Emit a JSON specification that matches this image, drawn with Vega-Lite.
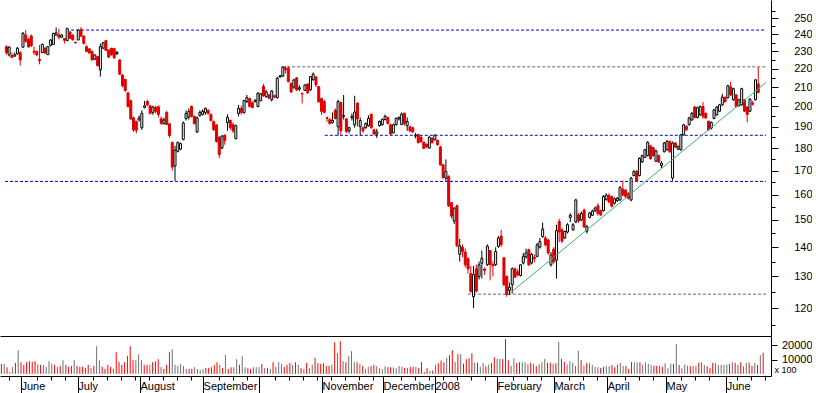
{
"$schema": "https://vega.github.io/schema/vega-lite/v6.json",
"padding": 0,
"background": "white",
"spacing": 0,
"config": {
  "view": {"stroke": null},
  "axis": {"labelFont": "Liberation Sans", "labelFontSize": 11, "labelColor": "black", "domainColor": "black", "tickColor": "black", "domainWidth": 1, "tickWidth": 1, "grid": false, "titleFont": "Liberation Sans", "titleColor": "black"}
},
"datasets": {
"ohlc": [
{"i":0,"o":232.7,"h":233.5,"l":228,"c":229.2,"v":6990},
{"i":1,"o":227.9,"h":233,"l":227,"c":232.4,"v":6990},
{"i":2,"o":227.5,"h":229.3,"l":226,"c":226.5,"v":4660},
{"i":3,"o":227.2,"h":229.3,"l":226.8,"c":228,"v":1400},
{"i":4,"o":228.5,"h":232.5,"l":228,"c":231.8,"v":4660},
{"i":5,"o":229.2,"h":230,"l":221.7,"c":225,"v":7690},
{"i":6,"o":232.4,"h":241.5,"l":232,"c":240.7,"v":16540},
{"i":7,"o":239.7,"h":242.7,"l":235,"c":235.9,"v":8155},
{"i":8,"o":237.1,"h":238,"l":232,"c":232.7,"v":6290},
{"i":9,"o":239.1,"h":240,"l":232.5,"c":233.3,"v":8155},
{"i":10,"o":230,"h":232.7,"l":227.9,"c":229.5,"v":8850},
{"i":11,"o":229.9,"h":230.5,"l":227,"c":227.9,"v":8390},
{"i":12,"o":225.4,"h":233.7,"l":222.5,"c":224.6,"v":8850},
{"i":13,"o":229.2,"h":234.5,"l":229,"c":234.1,"v":6760},
{"i":14,"o":231.8,"h":232.5,"l":228.5,"c":229,"v":6290},
{"i":15,"o":228,"h":233,"l":227.9,"c":232.7,"v":6290},
{"i":16,"o":233.5,"h":237,"l":232.7,"c":236.7,"v":4890},
{"i":17,"o":234,"h":241,"l":233.7,"c":240.7,"v":8850},
{"i":18,"o":239.6,"h":244.3,"l":239.5,"c":241,"v":6990},
{"i":19,"o":239.7,"h":243.5,"l":237.1,"c":238.3,"v":6290},
{"i":20,"o":238.3,"h":240,"l":238,"c":239.7,"v":4890},
{"i":21,"o":237.5,"h":237.8,"l":234.6,"c":236.5,"v":5590},
{"i":22,"o":236.3,"h":244,"l":236,"c":243.8,"v":9550},
{"i":23,"o":241.5,"h":242,"l":237.5,"c":237.7,"v":6290},
{"i":24,"o":239.7,"h":240,"l":236.5,"c":236.7,"v":4890},
{"i":25,"o":235.3,"h":235.5,"l":234.7,"c":234.9,"v":5590},
{"i":26,"o":236.7,"h":243,"l":236.5,"c":242.7,"v":9550},
{"i":27,"o":243,"h":244.5,"l":238.7,"c":239,"v":5590},
{"i":28,"o":239,"h":239.5,"l":234,"c":234.6,"v":4890},
{"i":29,"o":232.7,"h":233.5,"l":229.5,"c":229.9,"v":4890},
{"i":30,"o":231.4,"h":231.8,"l":228.5,"c":229,"v":4190},
{"i":31,"o":229.9,"h":230.5,"l":224.7,"c":225,"v":6290},
{"i":32,"o":225.4,"h":228,"l":225,"c":227.9,"v":4190},
{"i":33,"o":226.9,"h":227,"l":221.5,"c":221.7,"v":5590},
{"i":34,"o":219.4,"h":234.6,"l":215.7,"c":232.7,"v":19340},
{"i":35,"o":231.8,"h":235.3,"l":231.5,"c":235,"v":9550},
{"i":36,"o":236.3,"h":236.5,"l":230,"c":230.5,"v":4890},
{"i":37,"o":230.8,"h":231,"l":226,"c":226.6,"v":3495},
{"i":38,"o":231.8,"h":232,"l":227.5,"c":227.9,"v":6290},
{"i":39,"o":231.5,"h":232,"l":225.5,"c":226.3,"v":4890},
{"i":40,"o":228.5,"h":230,"l":227.9,"c":229.5,"v":3495},
{"i":41,"o":225,"h":225.5,"l":216.5,"c":217,"v":15145},
{"i":42,"o":216.6,"h":217,"l":210,"c":210.7,"v":8155},
{"i":43,"o":214.2,"h":214.5,"l":207.5,"c":208.2,"v":6290},
{"i":44,"o":207,"h":207.5,"l":199.5,"c":200,"v":8155},
{"i":45,"o":203,"h":203.5,"l":193.3,"c":193.8,"v":12580},
{"i":46,"o":194.3,"h":195,"l":187.5,"c":188.4,"v":19340},
{"i":47,"o":192.5,"h":193,"l":186.8,"c":188.3,"v":9550},
{"i":48,"o":193.3,"h":195.5,"l":192.5,"c":194.3,"v":9550},
{"i":49,"o":189.5,"h":198,"l":188.5,"c":196.5,"v":13750},
{"i":50,"o":199.5,"h":202.8,"l":199,"c":200.3,"v":9550},
{"i":51,"o":202.5,"h":203.4,"l":200,"c":200.8,"v":6290},
{"i":52,"o":200.3,"h":200.8,"l":196,"c":196.5,"v":6290},
{"i":53,"o":197,"h":200.3,"l":195.8,"c":199.7,"v":6290},
{"i":54,"o":199.5,"h":200.5,"l":196.5,"c":197.5,"v":8155},
{"i":55,"o":199.8,"h":200.5,"l":194.5,"c":196,"v":8850},
{"i":56,"o":193.8,"h":195,"l":190.9,"c":191.5,"v":10250},
{"i":57,"o":191.5,"h":194.5,"l":191,"c":193.3,"v":4890},
{"i":58,"o":197,"h":197.8,"l":190.9,"c":191,"v":3495},
{"i":59,"o":191.4,"h":191.5,"l":184.7,"c":185.8,"v":6290},
{"i":60,"o":182.5,"h":183,"l":170,"c":171.5,"v":15145},
{"i":61,"o":172,"h":181,"l":165.7,"c":179,"v":17240},
{"i":62,"o":178.5,"h":183,"l":178,"c":182.5,"v":6290},
{"i":63,"o":179.5,"h":182.5,"l":179,"c":182,"v":5590},
{"i":64,"o":184,"h":192.5,"l":183.5,"c":191.8,"v":6990},
{"i":65,"o":194,"h":198,"l":193,"c":196.5,"v":5590},
{"i":66,"o":194.7,"h":199,"l":193.5,"c":197.5,"v":3495},
{"i":67,"o":200,"h":200.5,"l":194.5,"c":195,"v":3495},
{"i":68,"o":195,"h":195.5,"l":191,"c":191.5,"v":3495},
{"i":69,"o":187.5,"h":195,"l":187,"c":194.3,"v":4660},
{"i":70,"o":195.5,"h":198,"l":194.8,"c":197,"v":3495},
{"i":71,"o":196,"h":198.5,"l":195.5,"c":197.5,"v":2800},
{"i":72,"o":197,"h":199.5,"l":195.8,"c":199,"v":3495},
{"i":73,"o":198,"h":198.5,"l":195.8,"c":196.5,"v":4190},
{"i":74,"o":196,"h":196.5,"l":192.5,"c":193,"v":4190},
{"i":75,"o":192.5,"h":193,"l":188,"c":188.5,"v":4660},
{"i":76,"o":190.9,"h":191,"l":182.5,"c":183,"v":6290},
{"i":77,"o":185,"h":185.5,"l":175.5,"c":177,"v":8155},
{"i":78,"o":180,"h":186,"l":179.5,"c":185.5,"v":6290},
{"i":79,"o":186,"h":186.2,"l":181.5,"c":183.5,"v":4190},
{"i":80,"o":192,"h":196,"l":188,"c":194.5,"v":13280},
{"i":81,"o":193,"h":193.5,"l":188.5,"c":189.5,"v":3495},
{"i":82,"o":191,"h":192,"l":187,"c":188,"v":4660},
{"i":83,"o":184.3,"h":191,"l":184,"c":190.5,"v":4660},
{"i":84,"o":196.5,"h":200.8,"l":195,"c":199,"v":10250},
{"i":85,"o":199,"h":200.3,"l":195.8,"c":197,"v":6290},
{"i":86,"o":196.8,"h":203.4,"l":196.5,"c":203,"v":12350},
{"i":87,"o":202.5,"h":205.9,"l":201.7,"c":204.5,"v":4660},
{"i":88,"o":204,"h":204.5,"l":199.5,"c":200,"v":3960},
{"i":89,"o":202,"h":202.5,"l":199,"c":199.5,"v":3495},
{"i":90,"o":202.5,"h":203.5,"l":202,"c":203.2,"v":4660},
{"i":91,"o":200,"h":207.5,"l":199.5,"c":206.8,"v":4660},
{"i":92,"o":203,"h":207,"l":202.5,"c":206.5,"v":4660},
{"i":93,"o":210.5,"h":211.8,"l":205,"c":205.5,"v":6990},
{"i":94,"o":205,"h":208.6,"l":204.5,"c":207.5,"v":4190},
{"i":95,"o":205.9,"h":206.5,"l":204,"c":204.2,"v":4190},
{"i":96,"o":203.5,"h":208.5,"l":202.5,"c":208,"v":3495},
{"i":97,"o":205.5,"h":206,"l":204.3,"c":204.8,"v":8155},
{"i":98,"o":204.5,"h":215.5,"l":204,"c":214.8,"v":4890},
{"i":99,"o":215.5,"h":216.5,"l":215,"c":216.2,"v":8155},
{"i":100,"o":216,"h":221.5,"l":215.5,"c":221,"v":6990},
{"i":101,"o":220.5,"h":221.5,"l":217.5,"c":219.5,"v":4890},
{"i":102,"o":220.3,"h":221.5,"l":212.5,"c":213,"v":6290},
{"i":103,"o":212,"h":212.5,"l":207,"c":207.5,"v":7690},
{"i":104,"o":210,"h":214.5,"l":209,"c":213.9,"v":6290},
{"i":105,"o":215,"h":215.5,"l":208,"c":208.5,"v":8155},
{"i":106,"o":209,"h":211,"l":208,"c":209.7,"v":6290},
{"i":107,"o":206.8,"h":207,"l":201.5,"c":206.5,"v":3960},
{"i":108,"o":208.3,"h":211.5,"l":208,"c":211.2,"v":3495},
{"i":109,"o":211.7,"h":212,"l":206.5,"c":207,"v":7690},
{"i":110,"o":208.6,"h":216,"l":208,"c":215.7,"v":3960},
{"i":111,"o":214,"h":218,"l":213.5,"c":217,"v":6290},
{"i":112,"o":215.5,"h":216,"l":210,"c":211.2,"v":11185},
{"i":113,"o":210.3,"h":210.5,"l":202,"c":202.3,"v":7455},
{"i":114,"o":204,"h":204.5,"l":195.8,"c":197.5,"v":6990},
{"i":115,"o":202.5,"h":203.4,"l":196.5,"c":197,"v":7455},
{"i":116,"o":194.3,"h":195,"l":192.3,"c":194,"v":5590},
{"i":117,"o":193.5,"h":194,"l":191,"c":191.5,"v":5590},
{"i":118,"o":192,"h":197,"l":191.5,"c":193,"v":6290},
{"i":119,"o":198,"h":199,"l":193.5,"c":194,"v":22135},
{"i":120,"o":190,"h":203.4,"l":185.8,"c":202.5,"v":14445},
{"i":121,"o":202,"h":202.5,"l":186.1,"c":188,"v":22835},
{"i":122,"o":195,"h":205.9,"l":193.5,"c":195.5,"v":9085},
{"i":123,"o":193.8,"h":194,"l":187,"c":187.7,"v":8155},
{"i":124,"o":188,"h":190,"l":186.8,"c":189.5,"v":12350},
{"i":125,"o":194.3,"h":196.5,"l":193,"c":195,"v":15845},
{"i":126,"o":190.9,"h":205.5,"l":189.5,"c":197.2,"v":8155},
{"i":127,"o":201.7,"h":202,"l":190,"c":193.8,"v":8155},
{"i":128,"o":190,"h":194.5,"l":185.8,"c":193,"v":6990},
{"i":129,"o":189.5,"h":190,"l":187,"c":188,"v":5590},
{"i":130,"o":189.5,"h":192,"l":189,"c":191.5,"v":3495},
{"i":131,"o":190.5,"h":195.5,"l":190,"c":194,"v":4890},
{"i":132,"o":196,"h":196.5,"l":189,"c":189.5,"v":5360},
{"i":133,"o":188.5,"h":189,"l":186,"c":186.5,"v":6290},
{"i":134,"o":186.5,"h":189,"l":184.7,"c":187.5,"v":5360},
{"i":135,"o":190.5,"h":193,"l":190,"c":192.5,"v":3960},
{"i":136,"o":191,"h":194,"l":190.5,"c":193.5,"v":3495},
{"i":137,"o":193.5,"h":196,"l":193,"c":195,"v":5360},
{"i":138,"o":194.5,"h":195,"l":191,"c":191.5,"v":4660},
{"i":139,"o":190.9,"h":191.5,"l":186,"c":186.5,"v":4660},
{"i":140,"o":187,"h":191.5,"l":186.8,"c":190.9,"v":4430},
{"i":141,"o":191,"h":194.5,"l":190.5,"c":194,"v":3960},
{"i":142,"o":193.8,"h":195,"l":193,"c":194.5,"v":5590},
{"i":143,"o":191,"h":197,"l":190.9,"c":196.2,"v":4890},
{"i":144,"o":196.5,"h":197,"l":190.5,"c":191.5,"v":4190},
{"i":145,"o":190.5,"h":194.5,"l":188,"c":192.5,"v":4190},
{"i":146,"o":190,"h":190.5,"l":187.5,"c":188,"v":4890},
{"i":147,"o":189.5,"h":190,"l":187,"c":187.5,"v":4890},
{"i":148,"o":185.5,"h":187,"l":184.5,"c":186,"v":4890},
{"i":149,"o":186.3,"h":186.5,"l":182,"c":182.5,"v":4190},
{"i":150,"o":185,"h":185.5,"l":182.3,"c":183,"v":8155},
{"i":151,"o":182.7,"h":183,"l":179.5,"c":179.8,"v":1165},
{"i":152,"o":181.8,"h":182,"l":180,"c":180.5,"v":3960},
{"i":153,"o":180,"h":185.5,"l":179.8,"c":185,"v":2100},
{"i":154,"o":184.5,"h":185,"l":182,"c":182.5,"v":2330},
{"i":155,"o":183.8,"h":186.3,"l":183.5,"c":186,"v":6290},
{"i":156,"o":183.5,"h":184,"l":181,"c":181.5,"v":7455},
{"i":157,"o":180.5,"h":181,"l":172,"c":172.5,"v":9320},
{"i":158,"o":172.5,"h":173,"l":166.5,"c":167,"v":8155},
{"i":159,"o":166.8,"h":174.9,"l":165.7,"c":169.6,"v":11185},
{"i":160,"o":167.5,"h":168,"l":155,"c":155.5,"v":13050},
{"i":161,"o":156.8,"h":157,"l":150.5,"c":151.5,"v":16545},
{"i":162,"o":149.6,"h":155,"l":148.5,"c":154.5,"v":8155},
{"i":163,"o":155.5,"h":156,"l":140,"c":140.5,"v":13750},
{"i":164,"o":137.5,"h":143,"l":135,"c":140.5,"v":13750},
{"i":165,"o":140,"h":141,"l":136.5,"c":138.5,"v":7225},
{"i":166,"o":138.3,"h":139.5,"l":133,"c":133.9,"v":10250},
{"i":167,"o":136,"h":136.5,"l":131,"c":132.5,"v":10950},
{"i":168,"o":131,"h":133.5,"l":124.7,"c":125.2,"v":14445},
{"i":169,"o":123.5,"h":133.5,"l":120,"c":130.6,"v":7920},
{"i":170,"o":132.5,"h":134,"l":124.8,"c":125.3,"v":7690},
{"i":171,"o":130,"h":135,"l":129,"c":133.9,"v":5125},
{"i":172,"o":134.4,"h":138.8,"l":129.3,"c":136.1,"v":7690},
{"i":173,"o":132.5,"h":133,"l":130.5,"c":132,"v":5360},
{"i":174,"o":133.9,"h":141,"l":133.5,"c":140.4,"v":6525},
{"i":175,"o":138.8,"h":139,"l":128.7,"c":134,"v":7690},
{"i":176,"o":134,"h":135,"l":130,"c":133.5,"v":11650},
{"i":177,"o":134,"h":140,"l":133.5,"c":138.5,"v":10485},
{"i":178,"o":140.3,"h":144,"l":139.8,"c":143.3,"v":10485},
{"i":179,"o":144,"h":146.3,"l":140,"c":141,"v":10485},
{"i":180,"o":136.3,"h":136.5,"l":126.8,"c":127.3,"v":24230},
{"i":181,"o":130,"h":130.3,"l":123.5,"c":124.2,"v":9550},
{"i":182,"o":125.5,"h":128,"l":124,"c":126.5,"v":5590},
{"i":183,"o":127.3,"h":133,"l":124.5,"c":132.6,"v":10950},
{"i":184,"o":132.5,"h":133,"l":129.5,"c":129.8,"v":7690},
{"i":185,"o":131.5,"h":132.5,"l":130,"c":130.5,"v":8155},
{"i":186,"o":130.3,"h":134,"l":130,"c":133.9,"v":8155},
{"i":187,"o":134.5,"h":138,"l":134,"c":136.8,"v":8155},
{"i":188,"o":136.6,"h":139.5,"l":136,"c":138,"v":6760},
{"i":189,"o":139.1,"h":139.5,"l":133.5,"c":133.9,"v":7690},
{"i":190,"o":134.5,"h":138,"l":134,"c":137.5,"v":6990},
{"i":191,"o":136.5,"h":137.5,"l":134.8,"c":136,"v":5360},
{"i":192,"o":136.8,"h":141.5,"l":136.5,"c":140.8,"v":6760},
{"i":193,"o":140,"h":143.3,"l":139.5,"c":142,"v":8155},
{"i":194,"o":143.8,"h":149,"l":143.4,"c":146.6,"v":10485},
{"i":195,"o":143.3,"h":144,"l":140.3,"c":140.8,"v":7690},
{"i":196,"o":142.6,"h":143,"l":137.3,"c":138,"v":7690},
{"i":197,"o":133.9,"h":138.3,"l":133.3,"c":137.3,"v":6990},
{"i":198,"o":139.3,"h":140,"l":134.3,"c":134.9,"v":7455},
{"i":199,"o":135.5,"h":148.2,"l":129.3,"c":146,"v":22370},
{"i":200,"o":149.4,"h":150.5,"l":141.8,"c":145.5,"v":10485},
{"i":201,"o":146.3,"h":147,"l":141.5,"c":142.2,"v":8390},
{"i":202,"o":143.3,"h":146,"l":143,"c":145.7,"v":6525},
{"i":203,"o":145.5,"h":148.8,"l":145,"c":148.2,"v":8850},
{"i":204,"o":151,"h":152.6,"l":149.2,"c":151.8,"v":7920},
{"i":205,"o":146.3,"h":148.8,"l":146,"c":148.2,"v":5590},
{"i":206,"o":149.2,"h":158.3,"l":148.8,"c":157.8,"v":16080},
{"i":207,"o":152,"h":152.6,"l":149,"c":149.6,"v":9785},
{"i":208,"o":150,"h":153.2,"l":149.6,"c":152.5,"v":5590},
{"i":209,"o":153.8,"h":154.4,"l":147,"c":147.4,"v":7455},
{"i":210,"o":145.8,"h":148.2,"l":145,"c":147.5,"v":7455},
{"i":211,"o":151,"h":153,"l":150.6,"c":152.7,"v":6290},
{"i":212,"o":151.8,"h":154,"l":151.5,"c":153.4,"v":4890},
{"i":213,"o":153.6,"h":155.2,"l":153,"c":154.6,"v":4660},
{"i":214,"o":155.5,"h":156.5,"l":151.6,"c":152.5,"v":4190},
{"i":215,"o":153.6,"h":154,"l":151.5,"c":152,"v":4890},
{"i":216,"o":153.6,"h":159.8,"l":153.2,"c":159.2,"v":5590},
{"i":217,"o":158,"h":160.5,"l":157.5,"c":159.8,"v":5360},
{"i":218,"o":159.6,"h":160.5,"l":156.5,"c":157,"v":6290},
{"i":219,"o":159.2,"h":159.6,"l":154.8,"c":155.3,"v":4660},
{"i":220,"o":156.5,"h":158.8,"l":156,"c":158.3,"v":6525},
{"i":221,"o":157.5,"h":159,"l":157,"c":158.5,"v":7690},
{"i":222,"o":157.8,"h":163.5,"l":157.5,"c":162.8,"v":5590},
{"i":223,"o":162.2,"h":165.7,"l":159.3,"c":159.8,"v":5590},
{"i":224,"o":161.8,"h":162.3,"l":158.5,"c":159.2,"v":3495},
{"i":225,"o":160.3,"h":161,"l":158,"c":158.5,"v":8155},
{"i":226,"o":157.8,"h":167.3,"l":157.3,"c":166.8,"v":8155},
{"i":227,"o":167.9,"h":170.2,"l":167.5,"c":169.6,"v":8155},
{"i":228,"o":169.6,"h":170.3,"l":165.2,"c":165.7,"v":8155},
{"i":229,"o":167.9,"h":175.8,"l":167.5,"c":175.3,"v":6525},
{"i":230,"o":173.8,"h":177,"l":173.3,"c":176.5,"v":8155},
{"i":231,"o":175.8,"h":179.6,"l":175.5,"c":179.2,"v":6990},
{"i":232,"o":176.6,"h":183.1,"l":176.2,"c":182.6,"v":6290},
{"i":233,"o":181,"h":181.5,"l":174.8,"c":175.2,"v":5590},
{"i":234,"o":180.2,"h":180.6,"l":176,"c":176.6,"v":5590},
{"i":235,"o":174.1,"h":179.2,"l":173.8,"c":178.7,"v":5590},
{"i":236,"o":176.6,"h":177,"l":173.3,"c":173.7,"v":4890},
{"i":237,"o":172.2,"h":174,"l":171,"c":173.2,"v":7455},
{"i":238,"o":178.3,"h":182.8,"l":178,"c":182.3,"v":3960},
{"i":239,"o":179.2,"h":183.8,"l":178.8,"c":183,"v":6990},
{"i":240,"o":183,"h":183.5,"l":177.8,"c":178.3,"v":6990},
{"i":241,"o":166.8,"h":183,"l":165.7,"c":182.3,"v":20970},
{"i":242,"o":182.3,"h":182.8,"l":180,"c":180.4,"v":6290},
{"i":243,"o":179.5,"h":181.2,"l":179,"c":180.7,"v":3960},
{"i":244,"o":179.2,"h":186.6,"l":178.8,"c":186.1,"v":6525},
{"i":245,"o":186.1,"h":191.4,"l":185.7,"c":190.9,"v":5590},
{"i":246,"o":190.2,"h":190.7,"l":188,"c":188.5,"v":5360},
{"i":247,"o":191,"h":194.8,"l":190.5,"c":194.2,"v":5590},
{"i":248,"o":193.3,"h":197.2,"l":192.8,"c":196.5,"v":5590},
{"i":249,"o":199.7,"h":200.3,"l":194,"c":194.5,"v":7690},
{"i":250,"o":194.5,"h":199.9,"l":194,"c":199.4,"v":8155},
{"i":251,"o":195.8,"h":200.4,"l":195.4,"c":199.9,"v":6290},
{"i":252,"o":200,"h":202.2,"l":193.8,"c":195,"v":5360},
{"i":253,"o":196.5,"h":197,"l":193.8,"c":194.2,"v":3960},
{"i":254,"o":192.6,"h":193,"l":188,"c":188.5,"v":7690},
{"i":255,"o":189.3,"h":192.5,"l":188.6,"c":192.1,"v":7690},
{"i":256,"o":194,"h":198.7,"l":193.6,"c":198.3,"v":6290},
{"i":257,"o":195.8,"h":200.2,"l":195.4,"c":199.7,"v":6290},
{"i":258,"o":197.6,"h":201.3,"l":197.2,"c":200.8,"v":6290},
{"i":259,"o":200.8,"h":206.5,"l":200.3,"c":204.8,"v":6525},
{"i":260,"o":204.6,"h":205.2,"l":202,"c":202.4,"v":6990},
{"i":261,"o":204.5,"h":211.3,"l":204,"c":210.8,"v":8155},
{"i":262,"o":210.2,"h":212.8,"l":205.4,"c":205.9,"v":7690},
{"i":263,"o":203.4,"h":209.7,"l":203,"c":209.2,"v":6290},
{"i":264,"o":205.9,"h":206.4,"l":199.5,"c":200,"v":8155},
{"i":265,"o":200.3,"h":203.9,"l":199.9,"c":203.4,"v":5360},
{"i":266,"o":200.8,"h":209.7,"l":200.4,"c":209.2,"v":7690},
{"i":267,"o":203.4,"h":203.9,"l":197.2,"c":197.6,"v":7920},
{"i":268,"o":199.7,"h":200.2,"l":192.1,"c":196,"v":5590},
{"i":269,"o":197.6,"h":204.2,"l":197.2,"c":203.7,"v":7690},
{"i":270,"o":201.7,"h":202.8,"l":200.4,"c":201.1,"v":6290},
{"i":271,"o":203.4,"h":214.4,"l":203,"c":213.9,"v":13050},
{"i":272,"o":211.7,"h":221,"l":206.7,"c":207.2,"v":14680}
],
"levels": [
{"y":242.7,"x1":21.6,"x2":274.8,"k":"resistance"},
{"y":221.1,"x1":99.8,"x2":274.8,"k":"neutral"},
{"y":185.9,"x1":115.2,"x2":274.8,"k":"resistance"},
{"y":165.4,"x1":-0.5,"x2":274.8,"k":"resistance"},
{"y":124.3,"x1":167.0,"x2":274.8,"k":"neutral"}
],
"trend": [
{"i":182.3,"p":124.7,"i2":274.8,"p2":212.5}
]
},
"vconcat": [
{
  "width": 771,
  "height": 336,
  "layer": [
    {
      "data": {"name": "levels"},
      "mark": {"type": "rule", "strokeWidth": 1, "strokeDash": [3, 2]},
      "encoding": {
        "x": {"field": "x1", "type": "quantitative", "scale": {"domain": [-0.5, 274.8], "nice": false, "zero": false}, "axis": {"orient": "bottom", "labels": false, "ticks": false, "domain": true, "title": null, "grid": false}},
        "x2": {"field": "x2"},
        "y": {"field": "y", "type": "quantitative", "scale": {"type": "log", "domain": [111.8, 261.9], "nice": false, "zero": false},
              "axis": {"orient": "right", "title": null, "values": [115,120,125,130,135,140,145,150,155,160,165,170,175,180,185,190,195,200,205,210,215,220,225,230,235,240,245,250,255],
                       "format": "d",
                       "labelExpr": "datum.value % 10 === 0 ? datum.label : ''",
                       "tickSize": {"condition": {"test": "datum.value % 10 === 0", "value": 7}, "value": 4},
                       "labelAlign": "right", "labelPadding": 34, "labelOverlap": false, "labelFlush": false, "labelBound": false}},
        "color": {"field": "k", "type": "nominal", "scale": {"domain": ["resistance", "neutral"], "range": ["#0000cc", "#666666"]}, "legend": null}
      }
    },
    {
      "data": {"name": "ohlc"},
      "mark": {"type": "rule", "strokeWidth": 1},
      "encoding": {
        "x": {"field": "i", "type": "quantitative", "axis": {"title": null}},
        "y": {"field": "l", "type": "quantitative", "axis": {"title": null}},
        "y2": {"field": "h"},
        "color": {"condition": {"test": "datum.c < datum.o", "value": "#e00000"}, "value": "black"}
      }
    },
    {
      "data": {"name": "ohlc"},
      "mark": {"type": "bar", "width": 2, "strokeWidth": 1},
      "encoding": {
        "x": {"field": "i", "type": "quantitative", "axis": {"title": null}},
        "y": {"field": "o", "type": "quantitative", "axis": {"title": null}},
        "y2": {"field": "c"},
        "fill": {"condition": {"test": "datum.c < datum.o", "value": "#e00000"}, "value": "white"},
        "stroke": {"condition": {"test": "datum.c < datum.o", "value": "#e00000"}, "value": "black"}
      }
    },
    {
      "data": {"name": "trend"},
      "mark": {"type": "rule", "strokeWidth": 1, "color": "#3cb371"},
      "encoding": {
        "x": {"field": "i", "type": "quantitative", "axis": {"title": null}},
        "x2": {"field": "i2"},
        "y": {"field": "p", "type": "quantitative", "axis": {"title": null}},
        "y2": {"field": "p2"}
      }
    }
  ]
},
{
  "width": 771,
  "height": 40,
  "data": {"name": "ohlc"},
  "mark": {"type": "rule", "strokeWidth": 1},
  "encoding": {
    "x": {"field": "i", "type": "quantitative", "scale": {"domain": [-0.5, 274.8], "nice": false, "zero": false},
          "axis": {"orient": "bottom", "title": null, "grid": false,
                   "values": [2.7,7,12.7,17.7,22.7,27.3,32.7,37.7,42.7,47.7,49.5,52.7,57.7,62.7,67.7,72,77.7,82.7,87.7,92,97.7,102.7,107.7,112.7,114.5,117.7,122.7,127.7,132.7,136.3,142.7,147.7,152.7,154.8,157.7,162.7,167.7,172.7,177,182.7,187.7,192.7,197.3,202.7,207.7,212.7,216.3,222.7,227.7,232.7,237.3,242.7,247.7,252.7,258.8,262.7,267.7,272.7],
                   "tickSize": {"condition": {"test": "indexof([7,27.3,49.5,72,92,114.5,136.3,154.8,177,197.3,216.3,237.3,258.8], datum.value) >= 0", "value": 17}, "value": 4},
                   "labelExpr": "['June','July','August','September','','November','December','2008','February','March','April','May','June'][indexof([7,27.3,49.5,72,92,114.5,136.3,154.8,177,197.3,216.3,237.3,258.8], datum.value)] || ''",
                   "labelAlign": "left", "labelBaseline": "top", "labelPadding": -13, "labelDx": 2,
                   "labelOverlap": false, "labelFlush": false, "labelBound": false}},
    "y": {"field": "v", "type": "quantitative", "scale": {"domain": [-1500, 26500], "nice": false, "zero": false},
          "axis": {"orient": "right", "title": "x 100", "values": [10000, 20000], "format": "d", "tickSize": 6,
                   "labelAlign": "right", "labelPadding": 35, "labelOverlap": false, "labelBound": false, "labelFlush": false,
                   "titleAngle": 0, "titleX": 3, "titleY": 33, "titleAlign": "left", "titleBaseline": "middle", "titleFontSize": 9, "titleFontWeight": "normal"}},
    "y2": {"datum": 0},
    "color": {"condition": {"test": "datum.c < datum.o", "value": "#ff0000"}, "value": "#707070"}
  }
}
]
}
